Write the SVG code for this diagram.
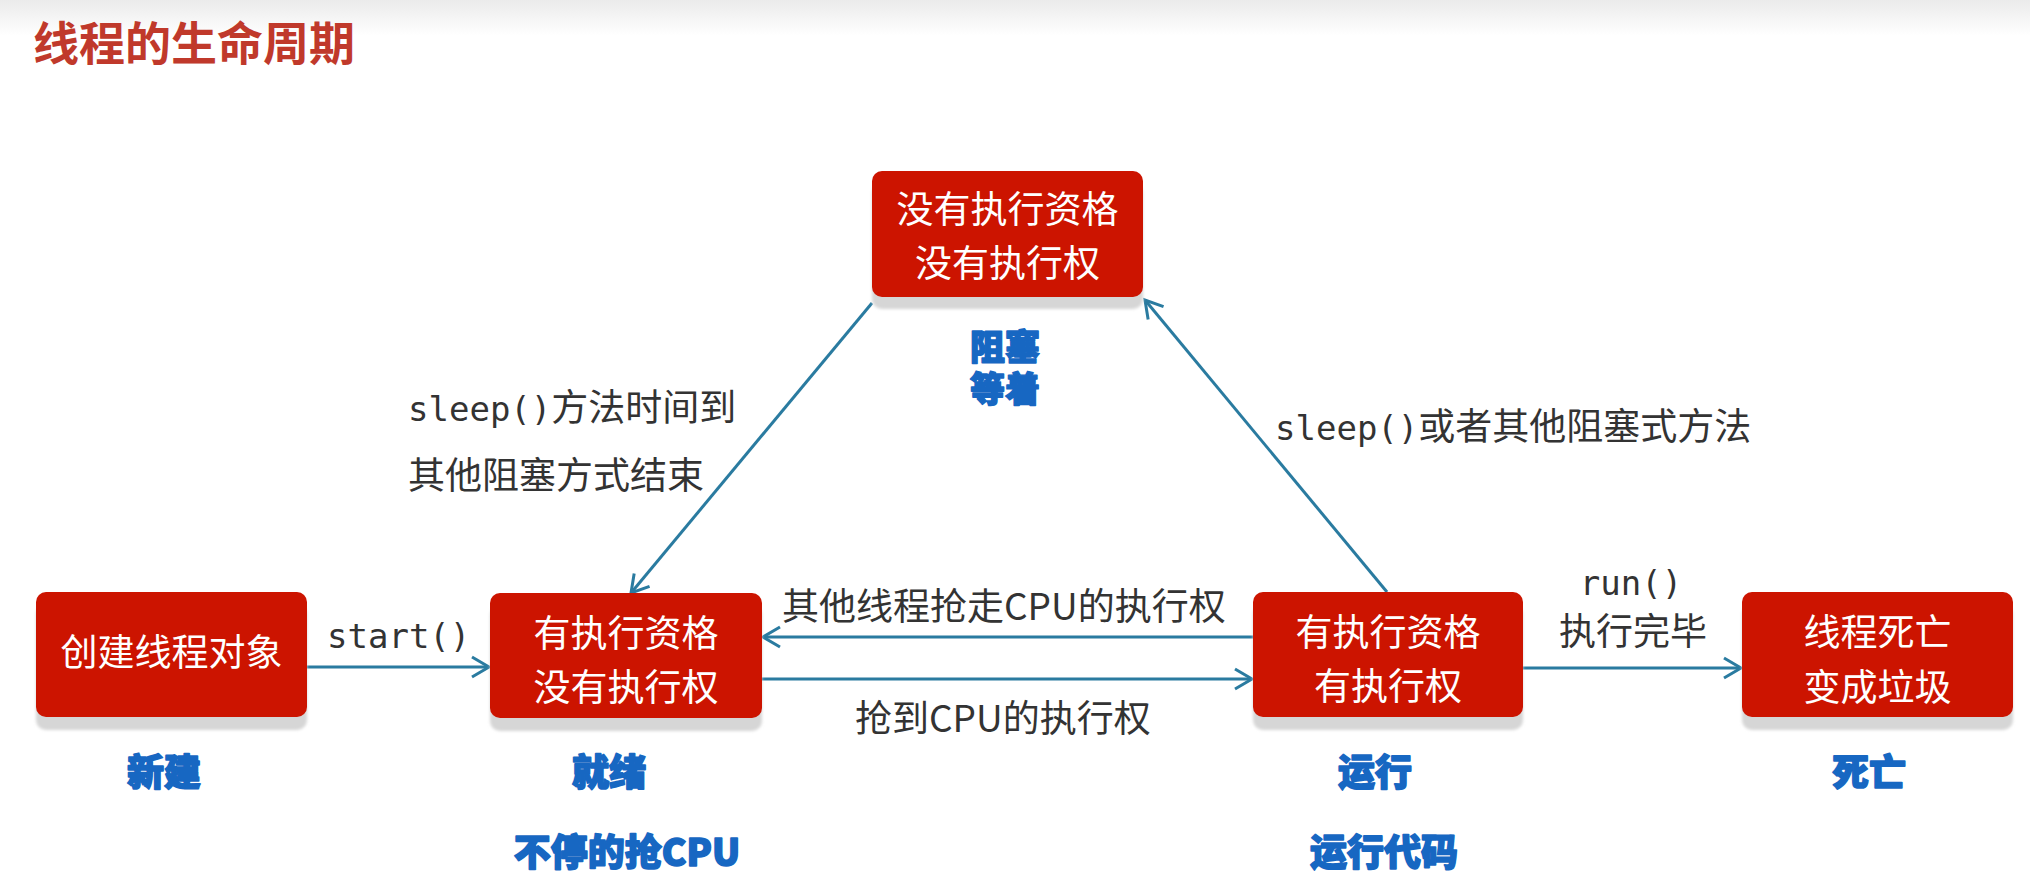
<svg xmlns="http://www.w3.org/2000/svg" width="2030" height="883" viewBox="0 0 2030 883">
<defs>
<linearGradient id="topband" x1="0" y1="0" x2="0" y2="1">
<stop offset="0" stop-color="#ebebeb"/>
<stop offset="1" stop-color="#ffffff"/>
</linearGradient>
<filter id="blur" x="-5%" y="-20%" width="110%" height="140%">
<feGaussianBlur stdDeviation="1.5"/>
</filter>
<marker id="arr" markerUnits="userSpaceOnUse" viewBox="-22 -14 26 28" markerWidth="26" markerHeight="28" refX="0" refY="0" orient="auto">
<path d="M-17,-10 L0,0 L-17,10" fill="none" stroke="#2a7ba0" stroke-width="3" stroke-linejoin="miter"/>
</marker>
<style>
.box{fill:#cc1400;}
.shadow{fill:#d6d6d6;filter:url(#blur);}
.bt{font-family:"Noto Sans CJK SC","Noto Sans",sans-serif;font-size:37px;fill:#ffffff;text-anchor:middle;}
.lbl{font-family:"Noto Sans CJK SC","Noto Sans",sans-serif;font-size:37px;fill:#333333;}
.mono{font-family:"DejaVu Sans Mono","Liberation Mono","Noto Sans CJK SC",monospace;font-size:34px;}
.state{font-family:"Noto Sans CJK SC","Noto Sans",sans-serif;font-size:37px;font-weight:900;fill:#1767c2;stroke:#1767c2;stroke-width:1.6px;stroke-linejoin:round;text-anchor:middle;}
.small{font-size:35px;stroke-width:1.4px;}
.conn{stroke:#2a7ba0;stroke-width:3;fill:none;marker-end:url(#arr);}
</style>
</defs>
<rect x="0" y="0" width="2030" height="883" fill="#ffffff"/>
<rect x="0" y="0" width="2030" height="36" fill="url(#topband)"/>
<text x="33" y="60" font-family="'Noto Sans CJK SC','Noto Sans',sans-serif" font-size="46" font-weight="700" fill="#c0392b">线程的生命周期</text>

<g id="connectors">
<line class="conn" x1="307" y1="667" x2="489" y2="667"/>
<line class="conn" x1="762" y1="679" x2="1252" y2="679"/>
<line class="conn" x1="1253" y1="637" x2="763" y2="637"/>
<line class="conn" x1="1523" y1="668" x2="1741" y2="668"/>
<line class="conn" x1="872" y1="303" x2="631" y2="593"/>
<line class="conn" x1="1387" y1="592" x2="1145" y2="300"/>
<text x="327" y="648" class="lbl mono">start()</text>
<text x="408" y="421" class="lbl"><tspan class="mono">sleep()</tspan>方法时间到</text>
<text x="408" y="489" class="lbl">其他阻塞方式结束</text>
<text x="1275" y="440" class="lbl"><tspan class="mono">sleep()</tspan>或者其他阻塞式方法</text>
<text x="782" y="620" class="lbl">其他线程抢走CPU的执行权</text>
<text x="855" y="732" class="lbl">抢到CPU的执行权</text>
<text x="1631" y="595" class="lbl mono" text-anchor="middle">run()</text>
<text x="1633" y="645" class="lbl" text-anchor="middle">执行完毕</text>
</g>

<g id="node-new">
<rect class="shadow" x="36" y="604" width="271" height="126" rx="10"/>
<rect class="box" x="36" y="592" width="271" height="125" rx="10"/>
<text class="bt" x="171.5" y="666">创建线程对象</text>
<text class="state" x="164" y="786">新建</text>
</g>

<g id="node-ready">
<rect class="shadow" x="490" y="605" width="272" height="126" rx="10"/>
<rect class="box" x="490" y="593" width="272" height="125" rx="10"/>
<text class="bt" x="626" y="647">有执行资格</text>
<text class="bt" x="626" y="701">没有执行权</text>
<text class="state" x="609" y="786">就绪</text>
<text class="state" x="627" y="866">不停的抢CPU</text>
</g>

<g id="node-running">
<rect class="shadow" x="1253" y="604" width="270" height="126" rx="10"/>
<rect class="box" x="1253" y="592" width="270" height="125" rx="10"/>
<text class="bt" x="1388" y="646">有执行资格</text>
<text class="bt" x="1388" y="700">有执行权</text>
<text class="state" x="1375" y="786">运行</text>
<text class="state" x="1384" y="866">运行代码</text>
</g>

<g id="node-dead">
<rect class="shadow" x="1742" y="604" width="271" height="126" rx="10"/>
<rect class="box" x="1742" y="592" width="271" height="125" rx="10"/>
<text class="bt" x="1877.5" y="646">线程死亡</text>
<text class="bt" x="1877.5" y="701">变成垃圾</text>
<text class="state" x="1869" y="786">死亡</text>
</g>

<g id="node-blocked">
<rect class="shadow" x="872" y="183" width="271" height="126" rx="10"/>
<rect class="box" x="872" y="171" width="271" height="126" rx="10"/>
<text class="bt" x="1007.5" y="223">没有执行资格</text>
<text class="bt" x="1007.5" y="277">没有执行权</text>
<text class="state small"><tspan x="1005" y="360">阻塞</tspan><tspan x="1005" y="402">等着</tspan></text>
</g>
</svg>
